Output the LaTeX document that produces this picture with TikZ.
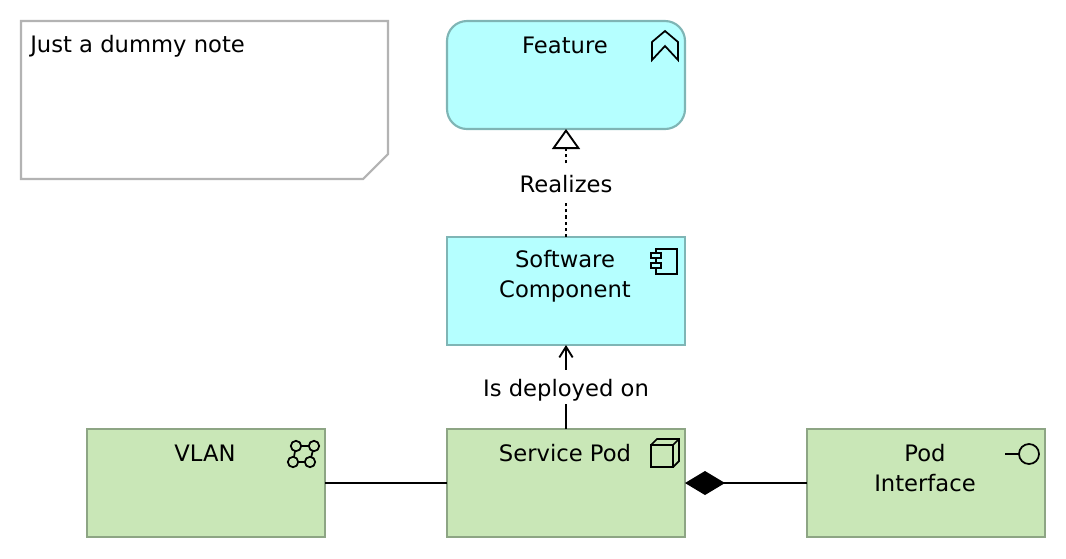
\documentclass[tikz,border=0pt]{standalone}
\usepackage{fontspec}
\setmainfont{DejaVu Sans}
\usetikzlibrary{arrows.meta}
\definecolor{appcyan}{RGB}{181,255,255}
\definecolor{appedge}{RGB}{127,181,181}
\definecolor{techgreen}{RGB}{201,231,183}
\definecolor{techedge}{RGB}{141,165,132}
\definecolor{noteedge}{RGB}{179,179,179}
\tikzset{
  elembox/.style={draw, line width=1.6pt, minimum width=178.5pt, minimum height=81pt, outer sep=0pt, inner sep=0pt},
  appbox/.style={elembox, fill=appcyan, draw=appedge},
  techbox/.style={elembox, fill=techgreen, draw=techedge},
  boxtext/.style={align=center, inner sep=0pt, font=\fontsize{17}{22.5}\selectfont},
  edgetext/.style={boxtext, fill=white, minimum height=26pt, inner xsep=3pt, text height=16pt, text depth=2.5pt},
  conn/.style={line width=1.4pt},
  glyph/.style={line width=1.3pt, line join=miter},
}
\begin{document}
\begin{tikzpicture}[x=0.75pt,y=0.75pt,yscale=-1,xscale=1]
\useasboundingbox (0,0) rectangle (1066,558);

% Note
\draw [draw=noteedge, line width=1.6pt, fill=white] (21,21) -- (388,21) -- (388,154) -- (363,179) -- (21,179) -- cycle ;
\node (note) [boxtext, anchor=west] at (30,46) {Just a dummy note};

% Boxes
\node (feature) [appbox, rounded corners=15pt] at (566,75) {};
\node (software) [appbox] at (566,291) {};
\node (pod) [techbox] at (566,483) {};
\node (vlan) [techbox] at (206,483) {};
\node (iface) [techbox] at (926,483) {};

% Text Node
\node (featuretext) [boxtext] at (565,45) {Feature};
\node (softwaretext) [boxtext] at (565,276) {Software\\Component};
\node (podtext) [boxtext] at (565,453) {Service Pod};
\node (vlantext) [boxtext] at (205,453) {VLAN};
\node (ifacetext) [boxtext] at (925,468) {Pod\\Interface};

% Connectors
\draw [conn, dash pattern={on 2.4pt off 2.2pt}, -{Triangle[open, fill=white, length=15pt, width=21pt]}] (software.north) -- node (realizes) [edgetext, midway] {Realizes} (feature.south) ;
\draw [conn, -{Straight Barb[length=8pt, width=10pt]}] (pod.north) -- node (deployed) [edgetext, midway] {Is deployed on} (software.south) ;
\draw [conn] (vlan.east) -- (pod.west) ;
\draw [conn, {Diamond[length=30pt, width=18pt]}-] (pod.east) -- (iface.west) ;

% Feature icon
\draw [glyph] (665,31) -- (678,42) -- (678,60) -- (665,46) -- (652,60) -- (652,42) -- cycle ;
% Component icon
\draw [glyph] (656,249) rectangle (677,274) ;
\draw [glyph, fill=appcyan] (651,253) rectangle (661,258) ;
\draw [glyph, fill=appcyan] (651,263) rectangle (661,268) ;
% Node icon
\draw [glyph] (651,445) rectangle (673,467) ;
\draw [glyph] (651,445) -- (657,439) -- (679,439) -- (679,461) -- (673,467) ;
\draw [glyph] (673,445) -- (679,439) ;
% Network icon
\draw [glyph] (296,446) -- (314,446) -- (310,462) -- (293,462) -- cycle ;
\foreach \cx/\cy in {296/446, 314/446, 293/462, 310/462}
  \draw [glyph, fill=techgreen] (\cx,\cy) circle (3.9pt) ;
% Interface icon
\draw [glyph] (1005,454) -- (1019,454) ;
\draw [glyph] (1029,454) circle (7.5pt) ;

\end{tikzpicture}
\end{document}
